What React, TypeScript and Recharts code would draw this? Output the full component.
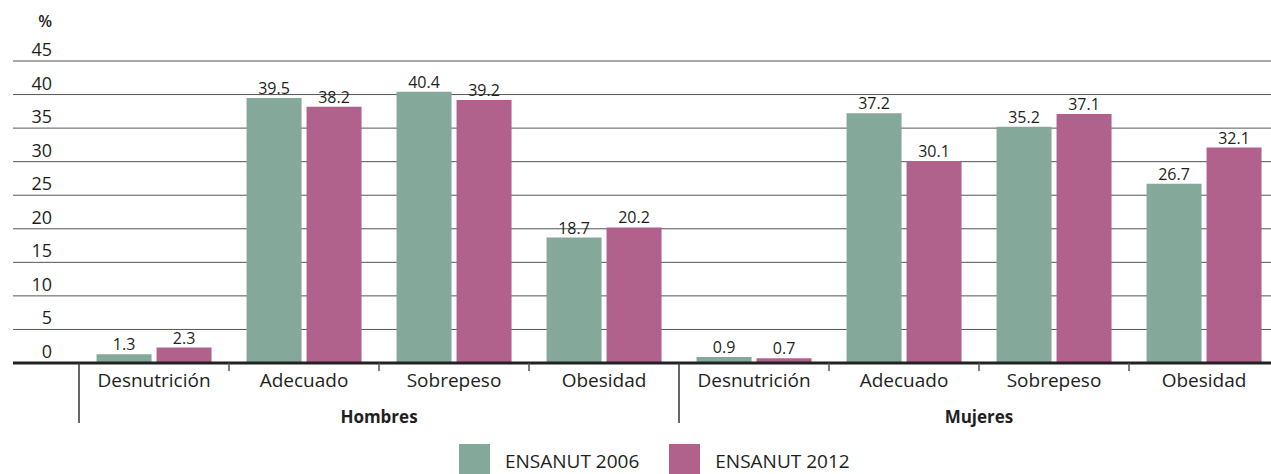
import { BarChart, Bar, XAxis, YAxis, CartesianGrid, Legend, LabelList } from "recharts";

const groups = ["Hombres", "Mujeres"];
const categories = ["Desnutrición", "Adecuado", "Sobrepeso", "Obesidad"];
const ensanut2006 = [1.3, 39.5, 40.4, 18.7, 0.9, 37.2, 35.2, 26.7];
const ensanut2012 = [2.3, 38.2, 39.2, 20.2, 0.7, 30.1, 37.1, 32.1];
const yTicks = [0, 5, 10, 15, 20, 25, 30, 35, 40, 45];
const seriesNames = ["ENSANUT 2006", "ENSANUT 2012"];

const GREEN = "#84a89a";
const PINK = "#b0628c";
const TEXT = "#231f20";
const FONT = "'Open Sans', sans-serif";

const data = ensanut2006.map((v, i) => ({
  cat: categories[i % categories.length],
  group: groups[Math.floor(i / categories.length)],
  v2006: v,
  v2012: ensanut2012[i],
}));

// eslint-disable-next-line @typescript-eslint/no-explicit-any
function YTick({ y, payload }: any) {
  return (
    <g>
      <text x={52} y={y - 5} textAnchor="end" fontSize={18} fill={TEXT} fontFamily={FONT}>
        {payload.value}
      </text>
      {payload.value === 45 && (
        <text x={52} y={y - 34} textAnchor="end" fontSize={16} fontWeight={600} fill={TEXT} fontFamily={FONT}>
          %
        </text>
      )}
    </g>
  );
}

// eslint-disable-next-line @typescript-eslint/no-explicit-any
function XTick({ x, y, payload }: any) {
  const half = payload.offset ?? 75;
  const left = x - half;
  const first = payload.index % categories.length === 0;
  return (
    <g>
      <text x={x} y={y + 24} textAnchor="middle" fontSize={19} fill={TEXT} fontFamily={FONT}>
        {payload.value}
      </text>
      {first ? (
        <line x1={left} x2={left} y1={y} y2={y + 60} stroke="#333" strokeWidth={1.5} />
      ) : (
        <line x1={left} x2={left} y1={y} y2={y + 8} stroke="#555" strokeWidth={1.5} />
      )}
      {first && (
        <text
          x={left + half * categories.length}
          y={y + 60}
          textAnchor="middle"
          fontSize={17}
          fontWeight={700}
          fill={TEXT}
          fontFamily={FONT}
        >
          {groups[Math.floor(payload.index / categories.length)]}
        </text>
      )}
    </g>
  );
}

function LegendContent() {
  const colors = [GREEN, PINK];
  return (
    <div style={{ display: "flex", alignItems: "flex-start", paddingLeft: 459, fontFamily: FONT }}>
      {seriesNames.map((name, i) => (
        <div key={name} style={{ display: "flex", alignItems: "flex-start", marginRight: 30 }}>
          <div style={{ width: 31, height: 30, background: colors[i], marginRight: 15 }} />
          <span style={{ fontSize: 19, color: TEXT, lineHeight: "20px", paddingTop: 7 }}>{name}</span>
        </div>
      ))}
    </div>
  );
}

export default function App() {
  return (
    <div style={{ position: "absolute", left: 0, top: 0, width: 1271, height: 474, overflow: "hidden", background: "#fff" }}>
      <BarChart
        width={1290}
        height={474}
        data={data}
        margin={{ top: 61, right: 11, bottom: 0, left: 0 }}
        barCategoryGap="11.7%"
        barGap={5}
      >
        <CartesianGrid horizontal vertical={false} stroke="#555" strokeWidth={1} />
        <YAxis
          domain={[0, 45]}
          ticks={yTicks}
          width={13}
          axisLine={false}
          tickLine={false}
          tick={<YTick />}
          interval={0}
        />
        <XAxis
          dataKey="cat"
          padding={{ left: 66, right: 0 }}
          height={81}
          tickSize={0}
          tickMargin={0}
          tickLine={false}
          axisLine={{ stroke: "#222", strokeWidth: 3 }}
          tick={<XTick />}
          interval={0}
        />
        <Legend verticalAlign="bottom" height={30} content={<LegendContent />} wrapperStyle={{ left: 0, width: 1290 }} />
        <Bar dataKey="v2006" name={seriesNames[0]} fill={GREEN} isAnimationActive={false}>
          <LabelList dataKey="v2006" position="top" offset={4} fontSize={16} fill={TEXT} fontFamily={FONT} />
        </Bar>
        <Bar dataKey="v2012" name={seriesNames[1]} fill={PINK} isAnimationActive={false}>
          <LabelList dataKey="v2012" position="top" offset={4} fontSize={16} fill={TEXT} fontFamily={FONT} />
        </Bar>
      </BarChart>
    </div>
  );
}
